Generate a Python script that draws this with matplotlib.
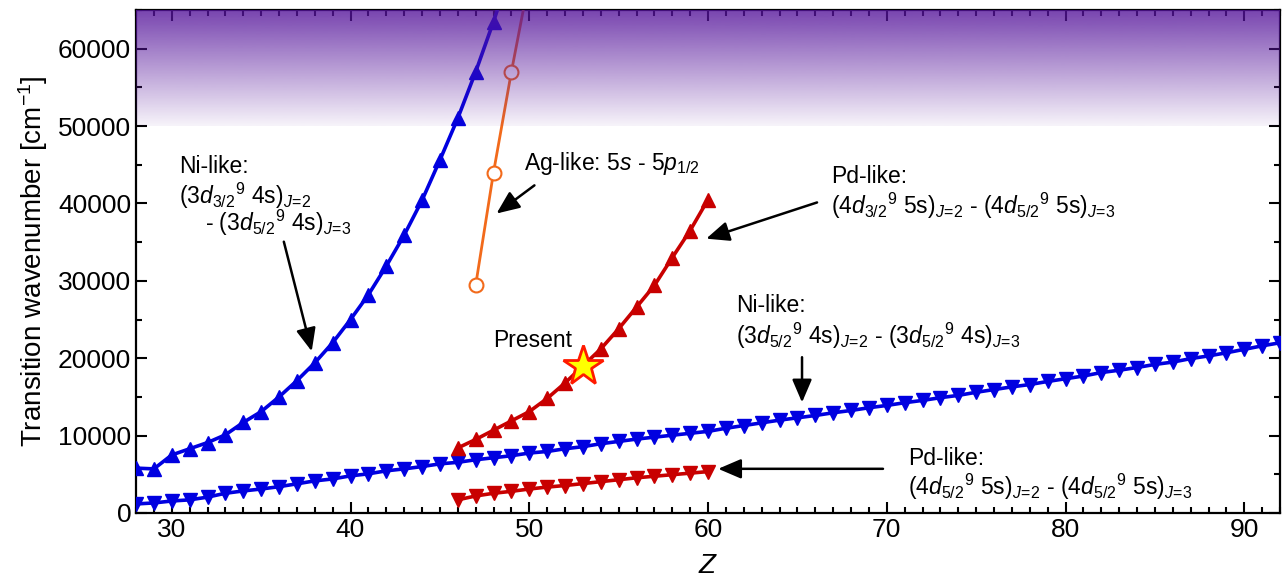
import numpy as np
import matplotlib
matplotlib.use("Agg")
import matplotlib.pyplot as plt
import matplotlib.ticker as mticker

plt.rcParams["font.family"] = ["Liberation Sans", "DejaVu Sans"]
plt.rcParams["mathtext.fontset"] = "custom"
plt.rcParams["mathtext.rm"] = "Liberation Sans"
plt.rcParams["mathtext.it"] = "Liberation Sans:italic"
plt.rcParams["mathtext.bf"] = "Liberation Sans:bold"

# ---------------------------------------------------------------------------
# Data
# ---------------------------------------------------------------------------
# Ni-like (3d3/2^9 4s)J=2 - (3d5/2^9 4s)J=3
ni_up_z = list(range(28, 50))
ni_up_v = [5800, 5700, 7500, 8300, 9100, 10100, 11700, 13100, 15000, 17100,
           19400, 22000, 25000, 28200, 31900, 35900, 40400, 45600, 51000,
           57000, 63500, 70500]

# Ag-like 5s - 5p1/2
ag_z = [47, 48, 49, 50]
ag_v = [29400, 44000, 57000, 69000]

# Pd-like (4d3/2^9 5s)J=2 - (4d5/2^9 5s)J=3
pd_up_z = list(range(46, 61))
pd_up_v = [8400, 9500, 10700, 11900, 13100, 14800, 16800, 19000, 21200,
           23800, 26600, 29400, 33000, 36500, 40500]

# Ni-like (3d5/2^9 4s)J=2 - (3d5/2^9 4s)J=3
ni_lo_z = list(range(28, 93))
ni_lo_v = [1170, 1300, 1550, 1700, 2050, 2550, 2850, 3100, 3400, 3770,
           4150, 4400, 4800, 5060, 5450, 5700, 6000, 6350, 6550, 6880,
           7140, 7400, 7750, 7950, 8300, 8570, 8950, 9250, 9550, 9800,
           10050, 10300, 10550, 10950, 11300, 11650, 12000, 12300, 12600, 12950,
           13250, 13600, 13900, 14250, 14550, 14900, 15200, 15600, 15950, 16300,
           16600, 17000, 17350, 17700, 18150, 18450, 18800, 19200, 19500, 19950,
           20300, 20700, 21150, 21600, 22000]

# Pd-like (4d5/2^9 5s)J=2 - (4d5/2^9 5s)J=3
pd_lo_z = list(range(46, 61))
pd_lo_v = [1700, 2200, 2550, 2800, 3100, 3350, 3550, 3800, 4050, 4300,
           4550, 4750, 4950, 5150, 5350]

# present measurement
present_z = [53]
present_v = [19000]

BLUE = "#0000e0"
RED = "#c80000"
ORANGE = "#f26a1b"

# ---------------------------------------------------------------------------
# Plot
# ---------------------------------------------------------------------------
fig = plt.figure(figsize=(12.86, 5.87), dpi=100)
ax = fig.add_axes([136 / 1286, 1 - 513 / 587, (1280 - 136) / 1286, (513 - 10) / 587])

ax.plot(ni_up_z, ni_up_v, color=BLUE, lw=2.6, marker="^", ms=10.5, zorder=3)
ax.plot(ni_lo_z, ni_lo_v, color=BLUE, lw=2.6, marker="v", ms=10.5, zorder=3)
ax.plot(pd_up_z, pd_up_v, color=RED, lw=2.6, marker="^", ms=10.5, zorder=3)
ax.plot(pd_lo_z, pd_lo_v, color=RED, lw=2.6, marker="v", ms=10.5, zorder=3)
ax.plot(ag_z, ag_v, color=ORANGE, lw=2.0, marker="o", ms=10, mfc="white",
        mec=ORANGE, mew=1.5, zorder=3)
ax.plot(present_z, present_v, ls="none", marker="*", ms=30, mfc="#ffff00",
        mec="#ff1a00", mew=2, zorder=4)

# purple shaded band above 50000, laid over the curves
n = 200
alpha = np.linspace(0.05, 0.80, n)
grad = np.zeros((n, 1, 4))
grad[:, 0, 0] = 85 / 255
grad[:, 0, 1] = 20 / 255
grad[:, 0, 2] = 155 / 255
grad[:, 0, 3] = alpha
ax.imshow(grad, extent=[28, 92, 50000, 65000], origin="lower", aspect="auto",
          interpolation="bilinear", zorder=10)

ax.set_xlim(28, 92)
ax.set_ylim(0, 65000)
ax.xaxis.set_major_locator(mticker.MultipleLocator(10))
ax.xaxis.set_minor_locator(mticker.MultipleLocator(1))
ax.yaxis.set_major_locator(mticker.MultipleLocator(10000))
ax.yaxis.set_minor_locator(mticker.MultipleLocator(5000))
ax.yaxis.set_major_formatter(mticker.FormatStrFormatter("%d"))
ax.tick_params(which="both", direction="in", top=True, right=True,
               labelsize=19, width=1.5)
ax.tick_params(which="major", length=8)
ax.tick_params(which="minor", length=4.5)
for s in ax.spines.values():
    s.set_linewidth(1.6)

ax.set_xlabel("$Z$", fontsize=20, labelpad=8)
ax.set_ylabel("Transition wavenumber [cm$^{-1}$]", fontsize=20, labelpad=6)

# annotations
fs = 16.5
arrow = dict(arrowstyle="-|>,head_length=0.7,head_width=0.3", color="black",
             lw=1.8, mutation_scale=20, shrinkA=0, shrinkB=0)

ax.text(30.4, 43900, "Ni-like:", fontsize=fs, va="baseline")
ax.text(30.4, 40000, r"$(3d_{3/2}{}^{9}\ \mathrm{4s})_{J\!=\!2}$", fontsize=fs, va="baseline")
ax.text(31.85, 36500, r"- $(3d_{5/2}{}^{9}\ \mathrm{4s})_{J\!=\!3}$", fontsize=fs, va="baseline")
ax.annotate("", xy=(37.83, 20900), xytext=(36.27, 35060), arrowprops=arrow)

ax.text(49.73, 44300, r"Ag-like: 5$s$ - 5$p_{1/2}$", fontsize=fs, va="baseline")
ax.annotate("", xy=(48.17, 38700), xytext=(50.29, 42340), arrowprops=arrow)

ax.text(66.9, 42600, "Pd-like:", fontsize=fs, va="baseline")
ax.text(66.9, 38700, r"$(4d_{3/2}{}^{9}\ \mathrm{5s})_{J\!=\!2}$ - $(4d_{5/2}{}^{9}\ \mathrm{5s})_{J\!=\!3}$",
        fontsize=fs, va="baseline")
ax.annotate("", xy=(59.9, 35450), xytext=(66.1, 40130), arrowprops=arrow)

ax.text(61.58, 25970, "Ni-like:", fontsize=fs, va="baseline")
ax.text(61.58, 21820, r"$(3d_{5/2}{}^{9}\ \mathrm{4s})_{J\!=\!2}$ - $(3d_{5/2}{}^{9}\ \mathrm{4s})_{J\!=\!3}$",
        fontsize=fs, va="baseline")
ax.annotate("", xy=(65.26, 14290), xytext=(65.26, 20130), arrowprops=arrow)

ax.text(52.41, 21430, "Present", fontsize=fs, ha="right", va="baseline")

ax.text(71.18, 6230, "Pd-like:", fontsize=fs, va="baseline")
ax.text(71.18, 2340, r"$(4d_{5/2}{}^{9}\ \mathrm{5s})_{J\!=\!2}$ - $(4d_{5/2}{}^{9}\ \mathrm{5s})_{J\!=\!3}$",
        fontsize=fs, va="baseline")
ax.annotate("", xy=(60.57, 5710), xytext=(69.79, 5710), arrowprops=arrow)

fig.savefig("out.png", dpi=100)
